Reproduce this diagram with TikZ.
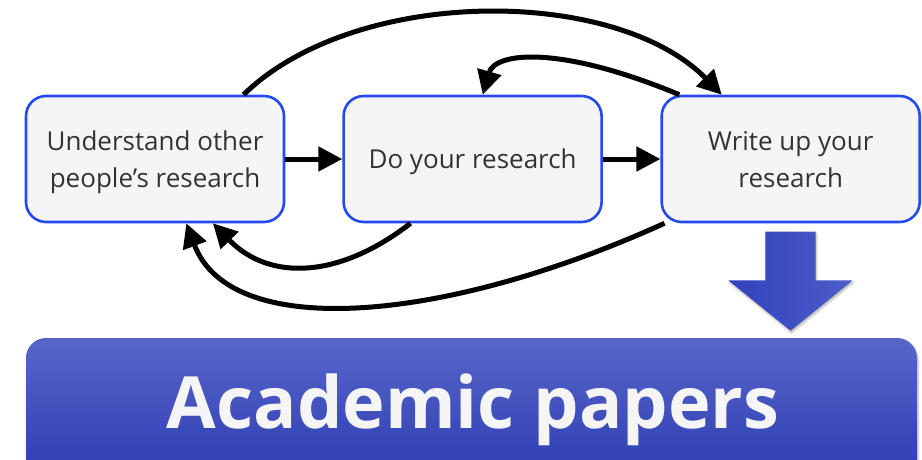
\documentclass[tikz,border=0pt]{standalone}
\usepackage{fontspec}
\setmainfont{Open Sans}
\usepackage{xcolor}
\usepackage{tikz}
\usetikzlibrary{arrows.meta,positioning,shapes.arrows,shadows.blur}

\definecolor{boxblue}{HTML}{2449F0}
\definecolor{boxfill}{HTML}{F5F5F5}
\definecolor{textgray}{HTML}{333333}
\definecolor{papertop}{HTML}{5866C9}
\definecolor{paperbot}{HTML}{2C3CB2}
\definecolor{arrowleft}{HTML}{3142BC}
\definecolor{arrowright}{HTML}{4D5CC8}

\begin{document}
\begin{tikzpicture}[
    x=1pt, y=-1pt,
    font=\fontsize{26}{37}\selectfont,
    stage/.style={draw=boxblue, fill=boxfill, line width=2.6pt, rounded corners=20pt,
      minimum width=258pt, minimum height=126pt, align=center, text=textgray,
      text depth=0pt},
    flow/.style={-{Triangle[length=24pt,width=24pt]}, line width=5pt},
    paperbox/.style={rounded corners=20pt, minimum width=891pt, minimum height=142pt,
      top color=papertop, bottom color=paperbot,
      blur shadow={shadow xshift=1pt, shadow yshift=-2pt, shadow opacity=30}},
    papertitle/.style={font=\fontsize{72}{80}\selectfont\bfseries, text=boxfill},
    bigarrow/.style={single arrow, shape border rotate=270, inner sep=25pt,
      minimum height=99pt, single arrow head extend=37pt,
      single arrow tip angle=102, left color=arrowleft, right color=arrowright,
      blur shadow={shadow xshift=1pt, shadow yshift=-2pt, shadow opacity=30}}
  ]
  \useasboundingbox (0,0) rectangle (922,460);
  \node[stage] (understand) at (155,159) {Understand other\\people’s research};
  \node[stage, right=57pt of understand] (doit) {Do your research};
  \node[stage, right=57.5pt of doit] (writeup) {Write up your\\research};
  \node[bigarrow] (down) at (790.5,271) {};
  \node[paperbox] (papers) at (471.5,409) {};
  \node[papertitle, anchor=base] (ptitle) at (473,428) {Academic papers};
  \draw[flow] (understand) -- (doit);
  \draw[flow] (doit) -- (writeup);
  \draw[flow] (understand.36.5) .. controls (355,-14) and (615,-14) .. (writeup.137.6);
  \draw[flow] (writeup.150.9) .. controls (560,45) and (495,52) .. (doit.81.4);
  \draw[flow] (doit.226.2) .. controls (340,278) and (270,282) .. (understand.-48.9);
  \draw[flow] (writeup.207.6) .. controls (440,325) and (230,340) .. (understand.-64.5);
\end{tikzpicture}
\end{document}
